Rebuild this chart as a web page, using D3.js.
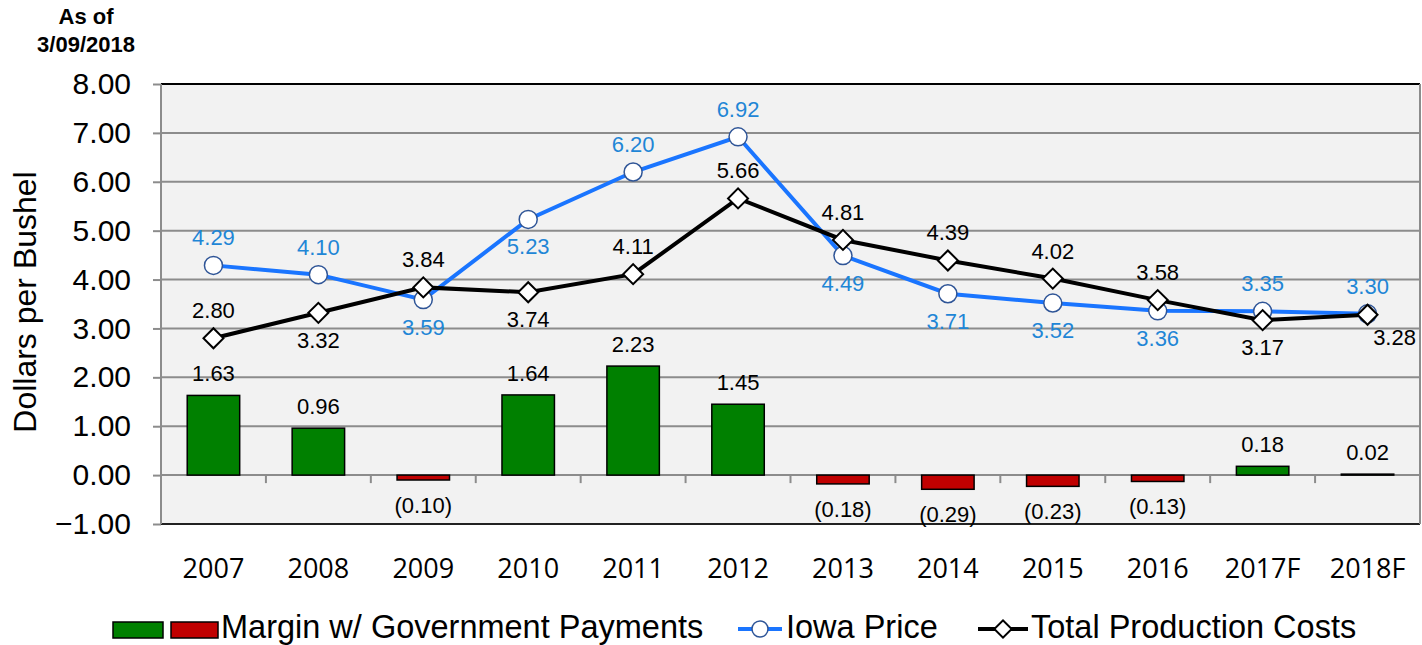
<!DOCTYPE html>
<html>
<head>
<meta charset="utf-8">
<script src="https://cdn.jsdelivr.net/npm/d3@7"></script>
<style>
  body { margin: 0; background: #fff; }
  svg { display: block; font-family: "Liberation Sans", Arial, sans-serif; }
</style>
</head>
<body>
<svg id="chart" width="1422" height="645"></svg>
<script>
// data
var years = ["2007", "2008", "2009", "2010", "2011", "2012", "2013", "2014", "2015", "2016", "2017F", "2018F"];
var iowaPrice = [4.29, 4.10, 3.59, 5.23, 6.20, 6.92, 4.49, 3.71, 3.52, 3.36, 3.35, 3.30];
var totalCosts = [2.80, 3.32, 3.84, 3.74, 4.11, 5.66, 4.81, 4.39, 4.02, 3.58, 3.17, 3.28];
var margin = [1.63, 0.96, -0.10, 1.64, 2.23, 1.45, -0.18, -0.29, -0.23, -0.13, 0.18, 0.02];
var yTicks = [-1, 0, 1, 2, 3, 4, 5, 6, 7, 8];
// label side: a = above, b = below, r = below right
var priceLabelSide = ["a", "a", "b", "b", "a", "a", "b", "b", "b", "b", "a", "a"];
var costLabelSide = ["a", "b", "a", "b", "a", "a", "a", "a", "a", "a", "b", "r"];

var plot = {left: 161, right: 1420, top: 84, bottom: 524};

var svg = d3.select("#chart");

var x = d3.scaleBand()
    .domain(years)
    .range([plot.left, plot.right]);
var y = d3.scaleLinear()
    .domain([-1, 8])
    .range([plot.bottom, plot.top]);

function fmt(v) {
  return v < 0 ? "(" + d3.format(".2f")(-v) + ")" : d3.format(".2f")(v);
}

// plot background
svg.append("rect")
    .attr("x", plot.left).attr("y", plot.top)
    .attr("width", plot.right - plot.left)
    .attr("height", plot.bottom - plot.top)
    .attr("fill", "#f2f2f2");

// gridlines + y axis
var yAxis = svg.append("g")
    .attr("transform", "translate(" + plot.left + ",0)")
    .call(d3.axisLeft(y).tickValues(yTicks).tickFormat(d3.format(".2f"))
        .tickSize(8).tickPadding(22));
yAxis.select(".domain").remove();
yAxis.selectAll("line").attr("stroke", "#8c8c8c").attr("stroke-width", 2);
yAxis.selectAll("text")
    .attr("font-size", 30)
    .attr("fill", "#000")
    .attr("font-family", "'Liberation Sans', Arial, sans-serif");

svg.append("g").selectAll("line")
    .data(yTicks)
    .join("line")
    .attr("x1", plot.left).attr("x2", plot.right)
    .attr("y1", function (d) { return y(d); })
    .attr("y2", function (d) { return y(d); })
    .attr("stroke", function (d) { return d === 8 ? "#000" : (d === -1 ? "#222" : "#8c8c8c"); })
    .attr("stroke-width", 2);

// left and right borders
svg.append("line")
    .attr("x1", plot.left).attr("x2", plot.left)
    .attr("y1", plot.top).attr("y2", plot.bottom)
    .attr("stroke", "#8c8c8c").attr("stroke-width", 2);
svg.append("line")
    .attr("x1", plot.right).attr("x2", plot.right)
    .attr("y1", plot.top).attr("y2", plot.bottom)
    .attr("stroke", "#8c8c8c").attr("stroke-width", 2);

// category ticks on the zero line
svg.append("g").selectAll("line")
    .data(years.slice(1))
    .join("line")
    .attr("x1", function (d) { return x(d); })
    .attr("x2", function (d) { return x(d); })
    .attr("y1", y(0)).attr("y2", y(0) + 8)
    .attr("stroke", "#8c8c8c").attr("stroke-width", 2);

// x labels
svg.append("g").selectAll("text")
    .data(years)
    .join("text")
    .attr("x", function (d) { return x(d) + x.bandwidth() / 2; })
    .attr("y", 578)
    .attr("text-anchor", "middle")
    .attr("font-size", 27)
    .attr("font-family", "'Open Sans', 'Liberation Sans', sans-serif")
    .text(function (d) { return d; });

// bars
var barW = x.bandwidth() * 0.5;
svg.append("g").selectAll("rect")
    .data(margin)
    .join("rect")
    .attr("x", function (d, i) { return x(years[i]) + (x.bandwidth() - barW) / 2; })
    .attr("y", function (d) { return Math.min(y(d), y(0)); })
    .attr("width", barW)
    .attr("height", function (d) { return Math.abs(y(d) - y(0)); })
    .attr("fill", function (d) { return d >= 0 ? "#008000" : "#c00000"; })
    .attr("stroke", "#000")
    .attr("stroke-width", 1.5);

svg.append("g").selectAll("text")
    .data(margin)
    .join("text")
    .attr("x", function (d, i) { return x(years[i]) + x.bandwidth() / 2; })
    .attr("y", function (d) { return d >= 0 ? y(d) - 14 : y(d) + 33; })
    .attr("text-anchor", "middle")
    .attr("font-size", 22)
    .attr("fill", "#000")
    .text(fmt);

// lines
var cx = function (d, i) { return x(years[i]) + x.bandwidth() / 2; };
var line = d3.line().x(cx).y(function (d) { return y(d); });

svg.append("path")
    .datum(iowaPrice)
    .attr("d", line)
    .attr("fill", "none")
    .attr("stroke", "#1a75ff")
    .attr("stroke-width", 4);

svg.append("path")
    .datum(totalCosts)
    .attr("d", line)
    .attr("fill", "none")
    .attr("stroke", "#000")
    .attr("stroke-width", 4);

svg.append("g").selectAll("circle")
    .data(iowaPrice)
    .join("circle")
    .attr("cx", cx)
    .attr("cy", function (d) { return y(d); })
    .attr("r", 9)
    .attr("fill", "#fff")
    .attr("stroke", "#2f5597")
    .attr("stroke-width", 1.5);

var diamond = d3.symbol().type(d3.symbolSquare).size(200);
svg.append("g").selectAll("path")
    .data(totalCosts)
    .join("path")
    .attr("d", diamond)
    .attr("transform", function (d, i) {
      return "translate(" + cx(d, i) + "," + y(d) + ") rotate(45)";
    })
    .attr("fill", "#fff")
    .attr("stroke", "#000")
    .attr("stroke-width", 2);

function labelPos(side, d, i) {
  var px = cx(d, i), py = y(d);
  if (side === "a") return [px, py - 20];
  if (side === "b") return [px, py + 35];
  return [px + 27, py + 30];
}

svg.append("g").selectAll("text")
    .data(iowaPrice)
    .join("text")
    .attr("x", function (d, i) { return labelPos(priceLabelSide[i], d, i)[0]; })
    .attr("y", function (d, i) { return labelPos(priceLabelSide[i], d, i)[1]; })
    .attr("text-anchor", "middle")
    .attr("font-size", 22)
    .attr("fill", "#1f86d6")
    .text(fmt);

svg.append("g").selectAll("text")
    .data(totalCosts)
    .join("text")
    .attr("x", function (d, i) { return labelPos(costLabelSide[i], d, i)[0]; })
    .attr("y", function (d, i) { return labelPos(costLabelSide[i], d, i)[1]; })
    .attr("text-anchor", "middle")
    .attr("font-size", 22)
    .attr("fill", "#000")
    .text(fmt);

// title note
svg.append("text")
    .attr("x", 86).attr("y", 24)
    .attr("text-anchor", "middle")
    .attr("font-size", 22).attr("font-weight", "bold")
    .text("As of");
svg.append("text")
    .attr("x", 86).attr("y", 52)
    .attr("text-anchor", "middle")
    .attr("font-size", 22).attr("font-weight", "bold")
    .text("3/09/2018");

// y axis title
svg.append("text")
    .attr("transform", "translate(36,302) rotate(-90)")
    .attr("text-anchor", "middle")
    .attr("font-size", 32)
    .text("Dollars per Bushel");

// legend
var lg = svg.append("g");
lg.append("rect").attr("x", 113).attr("y", 622).attr("width", 50).attr("height", 16)
    .attr("fill", "#008000").attr("stroke", "#000").attr("stroke-width", 1.5);
lg.append("rect").attr("x", 171).attr("y", 622).attr("width", 47).attr("height", 16)
    .attr("fill", "#c00000").attr("stroke", "#000").attr("stroke-width", 1.5);
lg.append("text").attr("x", 221).attr("y", 638).attr("font-size", 32.5)
    .text("Margin w/ Government Payments");

lg.append("line").attr("x1", 738).attr("x2", 782).attr("y1", 629).attr("y2", 629)
    .attr("stroke", "#1a75ff").attr("stroke-width", 4);
lg.append("circle").attr("cx", 760).attr("cy", 629).attr("r", 8)
    .attr("fill", "#fff").attr("stroke", "#2f5597").attr("stroke-width", 1.5);
lg.append("text").attr("x", 786).attr("y", 638).attr("font-size", 32.5)
    .text("Iowa Price");

lg.append("line").attr("x1", 978).attr("x2", 1028).attr("y1", 629).attr("y2", 629)
    .attr("stroke", "#000").attr("stroke-width", 4);
lg.append("path").attr("d", d3.symbol().type(d3.symbolSquare).size(150))
    .attr("transform", "translate(1003,629) rotate(45)")
    .attr("fill", "#fff").attr("stroke", "#000").attr("stroke-width", 2);
lg.append("text").attr("x", 1031).attr("y", 638).attr("font-size", 32.5)
    .text("Total Production Costs");
</script>
</body>
</html>
